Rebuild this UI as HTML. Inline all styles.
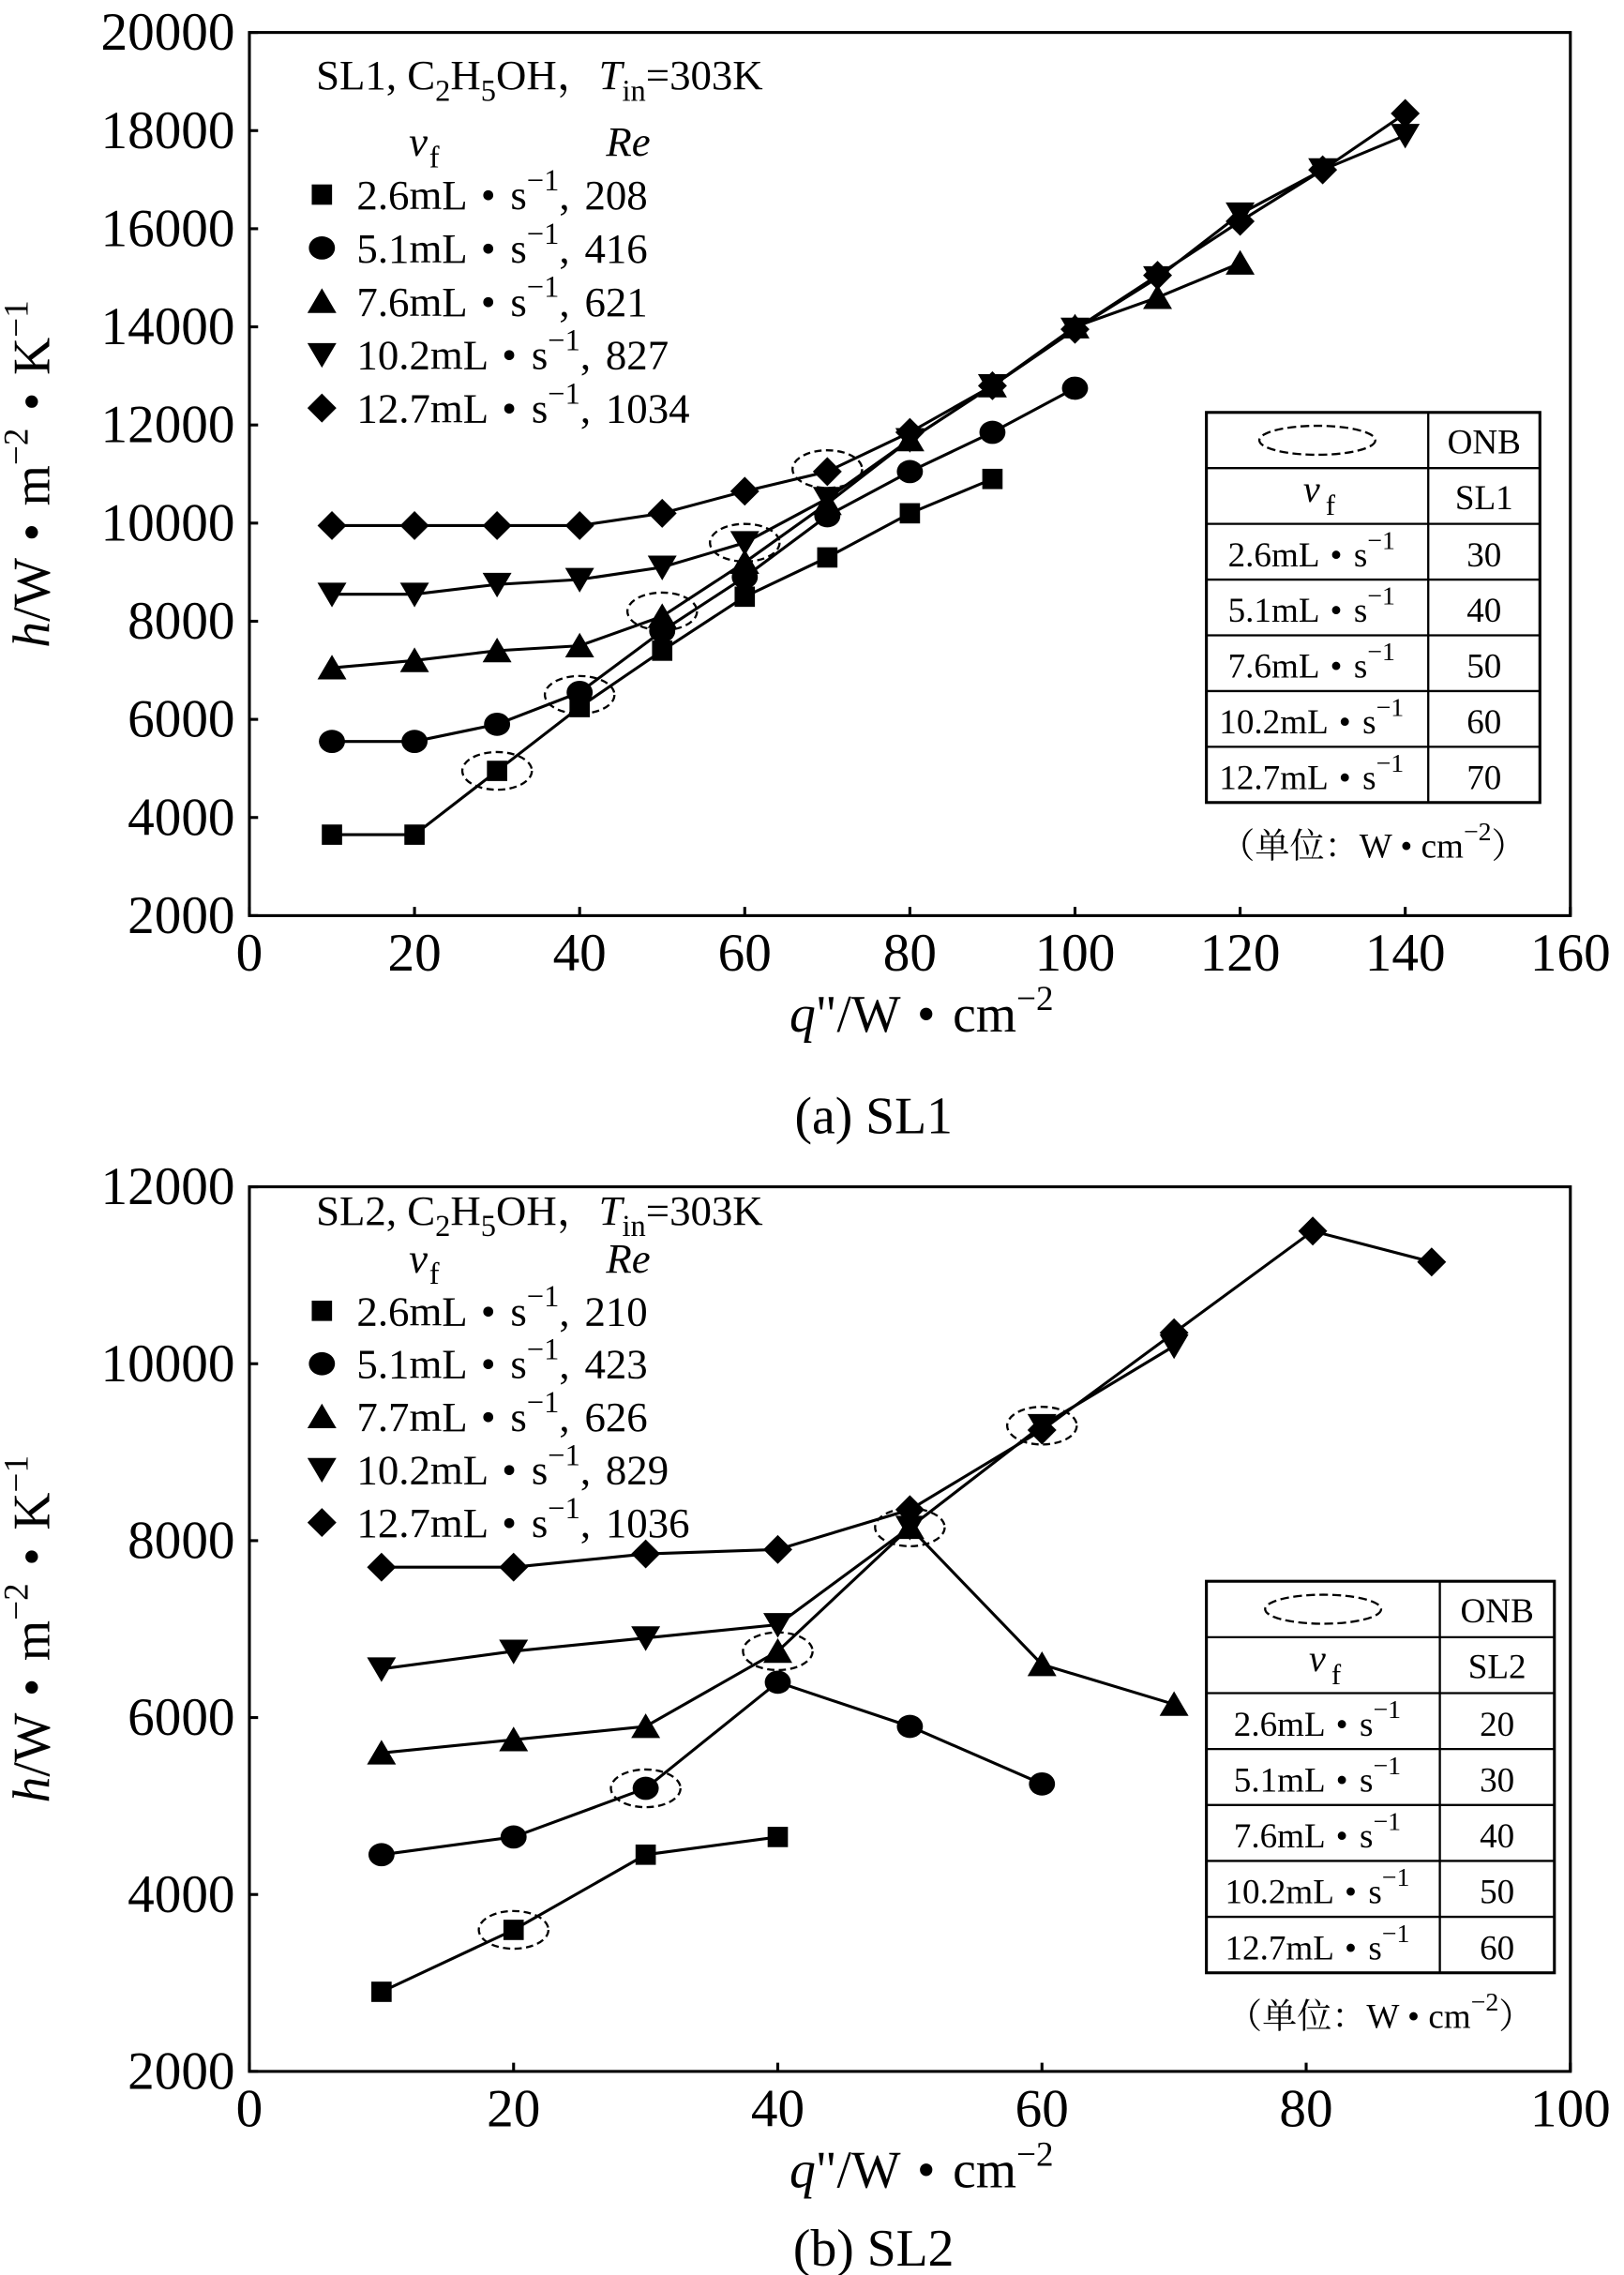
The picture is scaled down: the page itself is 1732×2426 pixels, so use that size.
<!DOCTYPE html>
<html><head><meta charset="utf-8"><style>
html,body{margin:0;padding:0;background:#fff}
svg{display:block}
text{font-family:"Liberation Serif","Noto Serif CJK SC",serif;fill:#000}
</style></head><body>
<svg id="chart" width="1732" height="2426" viewBox="0 0 1120 1568" xmlns="http://www.w3.org/2000/svg">
<g id="pa"></g>
<g id="pb"></g>
</svg>
<script>
// ---- Panel (a) data ----
const aSqX=[10,20,30,40,50,60,70,80,90];
const aSqY=[3650,3650,4950,6250,7400,8500,9300,10200,10900];
const aCiX=[10,20,30,40,50,60,70,80,90,100];
const aCiY=[5550,5550,5900,6550,7800,8900,10150,11050,11850,12750];
const aTuX=[10,20,30,40,50,60,70,80,90,100,110,120];
const aTuY=[7050,7200,7400,7500,8100,9200,10400,11700,12800,14000,14600,15300];
const aTdX=[10,20,30,40,50,60,70,80,90,100,110,120,130,140];
const aTdY=[8550,8550,8750,8850,9100,9600,10500,11700,12800,13950,15000,16300,17200,17900];
const aDiX=[10,20,30,40,50,60,70,80,90,100,110,120,130,140];
const aDiY=[9950,9950,9950,9950,10200,10650,11050,11850,12800,13950,15050,16150,17200,18350];
const aOnbX=[30,40,50,60,70];
const aOnbY=[4950,6500,8200,9600,11100];
const aXTicks=[0,20,40,60,80,100,120,140,160];
const aYTicks=[2000,4000,6000,8000,10000,12000,14000,16000,18000,20000];
const aLegend=["2.6mL • s","5.1mL • s","7.6mL • s","10.2mL • s","12.7mL • s"];
const aRe=["208","416","621","827","1034"];
const aOnb=["30","40","50","60","70"];
// ---- Panel (b) data ----
const bSqX=[10,20,30,40];
const bSqY=[2900,3600,4450,4650];
const bCiX=[10,20,30,40,50,60];
const bCiY=[4450,4650,5200,6400,5900,5250];
const bTuX=[10,20,30,40,50,60,70];
const bTuY=[5600,5750,5900,6750,8150,6600,6150];
const bTdX=[10,20,30,40,50,60,70];
const bTdY=[6550,6750,6900,7050,8150,9300,10200];
const bDiX=[10,20,30,40,50,60,70,80.5,89.5];
const bDiY=[7700,7700,7850,7900,8350,9250,10350,11500,11150];
const bOnbX=[20,30,40,50,60];
const bOnbY=[3600,5200,6750,8150,9300];
const bXTicks=[0,20,40,60,80,100];
const bYTicks=[2000,4000,6000,8000,10000,12000];
const bLegend=["2.6mL • s","5.1mL • s","7.7mL • s","10.2mL • s","12.7mL • s"];
const bRe=["210","423","626","829","1036"];
const bOnb=["20","30","40","50","60"];

const NS="http://www.w3.org/2000/svg";
function mk(p,tag,at,txt){const e=document.createElementNS(NS,tag);for(const k in at)e.setAttribute(k,at[k]);if(txt!==undefined)e.textContent=txt;p.appendChild(e);return e;}
function marker(g,type,cx,cy){
  let e;
  if(type==='sq'){e=mk(g,'rect',{x:cx-7,y:cy-7,width:14,height:14,fill:'#000'});}
  else if(type==='ci'){e=mk(g,'ellipse',{cx:cx,cy:cy,rx:9,ry:8,fill:'#000'});}
  else if(type==='tu'){e=mk(g,'polygon',{points:`${cx},${cy-9} ${cx-10},${cy+8} ${cx+10},${cy+8}`,fill:'#000'});}
  else if(type==='td'){e=mk(g,'polygon',{points:`${cx},${cy+9} ${cx-10},${cy-8} ${cx+10},${cy-8}`,fill:'#000'});}
  else {e=mk(g,'polygon',{points:`${cx},${cy-10} ${cx+10},${cy} ${cx},${cy+10} ${cx-10},${cy}`,fill:'#000'});}
  return e;
}
function panel(g,cfg){
  const {L,R,T,B,xmax,ymin,ymax}=cfg;
  const sx=v=>L+(v/xmax)*(R-L);
  const sy=v=>B-(v-ymin)/(ymax-ymin)*(B-T);
  const frame=mk(g,'rect',{x:L,y:T,width:R-L,height:B-T,fill:'none',stroke:'#000','stroke-width':2});
  
  
  cfg.xt.forEach(v=>{
    mk(g,'line',{x1:sx(v),x2:sx(v),y1:B,y2:B-6,stroke:'#000','stroke-width':2});
    const t=mk(g,'text',{x:sx(v),y:B+38,'text-anchor':'middle','font-size':37},String(v));
    
    
  });
  cfg.yt.forEach(v=>{
    mk(g,'line',{x1:L,x2:L+6,y1:sy(v),y2:sy(v),stroke:'#000','stroke-width':2});
    const t=mk(g,'text',{x:L-10,y:sy(v)+12,'text-anchor':'end','font-size':37},String(v));
    
    
  });
  cfg.onbX.forEach((v,i)=>{
    const e=mk(g,'ellipse',{cx:sx(v),cy:sy(cfg.onbY[i]),rx:24,ry:13,fill:'none',stroke:'#000','stroke-width':1.5,'stroke-dasharray':'5,3'});
    
    
  });
  cfg.series.forEach(s=>{
    const sg=mk(g,'g',{});
    
    
    mk(sg,'polyline',{points:s.x.map((v,i)=>sx(v)+','+sy(s.y[i])).join(' '),fill:'none',stroke:'#000','stroke-width':2});
    s.x.forEach((v,i)=>{
      const m=marker(sg,s.type,sx(v),sy(s.y[i]));
      
      
    });
  });
  const lg=mk(g,'g',{});
  
  
  const lt=mk(lg,'text',{x:L+46,y:cfg.ty,'font-size':29});
  lt.innerHTML=cfg.title+', C<tspan font-size="21" dy="8">2</tspan><tspan dy="-8">H</tspan><tspan font-size="21" dy="8">5</tspan><tspan dy="-8">OH，</tspan><tspan font-style="italic">T</tspan><tspan font-size="21" dy="8">in</tspan><tspan dy="-8">=303K</tspan>';
  const hy=cfg.hy;
  mk(lg,'text',{x:L+110,y:hy,'font-size':29,'font-style':'italic'},'v');
  mk(lg,'text',{x:L+124,y:hy+8,'font-size':21},'f');
  mk(lg,'text',{x:L+246,y:hy,'font-size':29,'font-style':'italic'},'Re');
  const types=['sq','ci','tu','td','di'];
  cfg.leg.forEach((s,i)=>{
    const y=hy+cfg.ld*(i+1);
    const m=marker(lg,types[i],L+50,y-10);
    
    
    const t=mk(lg,'text',{x:L+74,y:y,'font-size':29,'word-spacing':3});
    t.innerHTML=s+'<tspan font-size="21" dy="-13">−1</tspan><tspan dy="13">, '+cfg.re[i]+'</tspan>';
    
    
  });
  const tb=mk(g,'g',{});
  
  
  const {tx,ty,tw,th,tc}=cfg.tab;
  const rh=th/7;
  mk(tb,'rect',{x:tx,y:ty,width:tw,height:th,fill:'#fff',stroke:'#000','stroke-width':2});
  mk(tb,'line',{x1:tc,x2:tc,y1:ty,y2:ty+th,stroke:'#000','stroke-width':1.5});
  for(let i=1;i<7;i++)mk(tb,'line',{x1:tx,x2:tx+tw,y1:ty+rh*i,y2:ty+rh*i,stroke:'#000','stroke-width':1.5});
  const c1=(tx+tc)/2,c2=(tc+tx+tw)/2;
  mk(tb,'ellipse',{cx:c1,cy:ty+rh/2,rx:40,ry:10,fill:'none',stroke:'#000','stroke-width':1.5,'stroke-dasharray':'6,3'});
  mk(tb,'text',{x:c2,y:ty+rh/2+9,'text-anchor':'middle','font-size':24},'ONB');
  mk(tb,'text',{x:c1-4,y:ty+rh*1.5+4,'text-anchor':'middle','font-size':26,'font-style':'italic'},'v');
  mk(tb,'text',{x:c1+9,y:ty+rh*1.5+13,'text-anchor':'middle','font-size':20},'f');
  mk(tb,'text',{x:c2,y:ty+rh*1.5+9,'text-anchor':'middle','font-size':24},cfg.title);
  cfg.leg.forEach((s,i)=>{
    const y=ty+rh*(i+2.5)+10;
    const t=mk(tb,'text',{x:c1-4,y:y,'text-anchor':'middle','font-size':24,'word-spacing':2});
    t.innerHTML=(i===2?'7.6mL • s':s)+'<tspan font-size="18" dy="-12">−1</tspan>';
    mk(tb,'text',{x:c2,y:y,'text-anchor':'middle','font-size':24},cfg.onb[i]);
  });
  const n=mk(tb,'text',{x:tx+tw/2,y:ty+th+38,'text-anchor':'middle','font-size':24});
  n.innerHTML='（单位：W • cm<tspan font-size="18" dy="-12">−2</tspan><tspan dy="12">）</tspan>';
  const yl=mk(g,'text',{transform:`translate(${L-138},${(T+B)/2}) rotate(-90)`,'text-anchor':'middle','font-size':36,'word-spacing':3});
  yl.innerHTML='<tspan font-style="italic">h</tspan>/W • m<tspan font-size="24" dy="-15">−2</tspan><tspan dy="15"> • K</tspan><tspan font-size="24" dy="-15">−1</tspan>';
  
  
  const xl=mk(g,'text',{x:(L+R)/2+8,y:B+80,'text-anchor':'middle','font-size':36,'word-spacing':3});
  xl.innerHTML='<tspan font-style="italic">q</tspan>"/W • cm<tspan font-size="24" dy="-15">−2</tspan>';
  
  
  const cp=mk(g,'text',{x:(L+R)/2-25,y:cfg.capY,'text-anchor':'middle','font-size':36},cfg.cap);
  
  
}
panel(document.getElementById('pa'),{L:172,R:1083,T:22,B:631,xmax:160,ymin:2000,ymax:20000,xt:aXTicks,yt:aYTicks,
  onbX:aOnbX,onbY:aOnbY,title:'SL1',cap:'(a) SL1',capY:781,ty:61,hy:107,ld:36.8,leg:aLegend,re:aRe,onb:aOnb,
  tab:{tx:832,ty:284,tw:230,th:269,tc:985},
  series:[{name:'2.6',type:'sq',x:aSqX,y:aSqY},{name:'5.1',type:'ci',x:aCiX,y:aCiY},{name:'7.6',type:'tu',x:aTuX,y:aTuY},{name:'10.2',type:'td',x:aTdX,y:aTdY},{name:'12.7',type:'di',x:aDiX,y:aDiY}]});
panel(document.getElementById('pb'),{L:172,R:1083,T:818,B:1428,xmax:100,ymin:2000,ymax:12000,xt:bXTicks,yt:bYTicks,
  onbX:bOnbX,onbY:bOnbY,title:'SL2',cap:'(b) SL2',capY:1562,ty:844,hy:877,ld:36.5,leg:bLegend,re:bRe,onb:bOnb,
  tab:{tx:832,ty:1090,tw:240,th:270,tc:993},
  series:[{name:'2.6',type:'sq',x:bSqX,y:bSqY},{name:'5.1',type:'ci',x:bCiX,y:bCiY},{name:'7.7',type:'tu',x:bTuX,y:bTuY},{name:'10.2',type:'td',x:bTdX,y:bTdY},{name:'12.7',type:'di',x:bDiX,y:bDiY}]});
</script>
</body></html>
